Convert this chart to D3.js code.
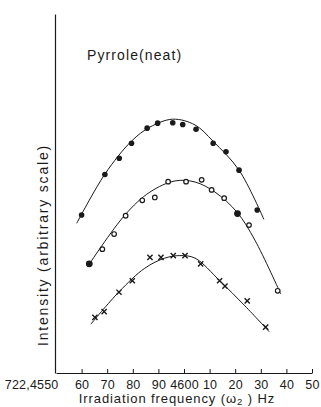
<!DOCTYPE html>
<html>
<head>
<meta charset="utf-8">
<script src="https://cdn.jsdelivr.net/npm/d3@7"></script>
<style>
  html, body { margin: 0; padding: 0; background: #fff; }
  svg { display: block; font-family: "Liberation Sans", Arial, sans-serif; }
</style>
</head>
<body>
<div id="chart"></div>
<script>
// irradiation frequency, last digits of 722,45xx Hz
const freqTicks = [4550, 4560, 4570, 4580, 4590, 4600, 4610, 4620, 4630, 4640, 4650];
const tickLabels = ['722,4550', '60', '70', '80', '90', '4600', '10', '20', '30', '40', '50'];

// filled dots (top)
const topFreq = [4560.0, 4569.1, 4574.7, 4579.5, 4585.6, 4589.7, 4595.6, 4599.5, 4604.7, 4611.4, 4616.4, 4621.5, 4628.6];
const topInt  = [44.0, 55.3, 59.8, 64.0, 68.2, 69.6, 69.7, 69.2, 67.9, 64.0, 61.6, 56.5, 45.4];
const topCurveFreq = [4558.1, 4569.1, 4579.5, 4586.7, 4595.6, 4604.3, 4611.3, 4621.5, 4631.2];
const topCurveInt  = [41.7, 55.4, 64.6, 68.5, 70.7, 69.1, 64.6, 56.5, 42.8];

// open circles (middle)
const midFreq = [4563.0, 4568.1, 4572.7, 4577.2, 4583.7, 4588.6, 4593.8, 4600.8, 4606.9, 4610.8, 4615.7, 4620.9, 4625.4, 4636.6];
const midInt  = [30.4, 34.5, 38.7, 43.8, 48.1, 48.9, 53.3, 53.3, 53.8, 51.0, 48.7, 44.4, 41.2, 22.9];
const midFilled = [true, false, false, false, false, false, false, false, false, false, false, true, false, false];
const midCurveFreq = [4562.3, 4576.9, 4586.7, 4596.5, 4604.3, 4612.1, 4620.7, 4627.7, 4637.8];
const midCurveInt  = [29.6, 44.0, 50.4, 53.5, 53.2, 50.4, 44.8, 37.0, 22.0];

// crosses (bottom)
const lowFreq = [4565.2, 4568.8, 4574.6, 4579.8, 4586.7, 4591.0, 4595.8, 4600.4, 4606.5, 4613.9, 4616.0, 4624.7, 4631.9];
const lowInt  = [15.5, 17.1, 22.5, 25.7, 32.2, 32.2, 32.7, 32.7, 30.4, 25.7, 24.2, 20.1, 12.8];
const lowCurveFreq = [4563.6, 4574.6, 4584.7, 4592.5, 4598.4, 4604.3, 4614.1, 4623.8, 4633.3];
const lowCurveInt  = [13.6, 22.6, 29.2, 32.0, 32.7, 32.0, 25.6, 18.7, 11.5];

const width = 321, height = 407;
const ink = '#1a1a1a';

const svg = d3.select('#chart').append('svg')
    .attr('width', width)
    .attr('height', height)
    .attr('viewBox', `0 0 ${width} ${height}`);

const x = d3.scaleLinear().domain([4550, 4650]).range([56, 312]);
const y = d3.scaleLinear().domain([0, 100]).range([373, 14]);

// axes
const xAxis = d3.axisBottom(x)
    .tickValues(freqTicks)
    .tickFormat((d, i) => tickLabels[i])
    .tickSizeInner(-4)
    .tickSizeOuter(0)
    .tickPadding(7);

const gx = svg.append('g')
    .attr('transform', `translate(0,${y(0)})`)
    .call(xAxis);
gx.select('.domain').attr('stroke', ink).attr('stroke-width', 1.2);
gx.selectAll('.tick line').attr('stroke', ink);
gx.selectAll('.tick text')
    .attr('fill', ink)
    .attr('font-size', 12.5)
    .attr('letter-spacing', 0.2)
    .attr('font-family', '"Liberation Sans", Arial, sans-serif');
gx.selectAll('.tick').filter(d => d === 4550).select('line').remove();
gx.selectAll('.tick').filter(d => d === 4550).select('text')
    .attr('text-anchor', 'end')
    .attr('x', 2);

const gy = svg.append('g')
    .attr('transform', `translate(${x(4550) - 1},0)`)
    .call(d3.axisLeft(y).ticks(0).tickSizeOuter(0));
gy.select('.domain').attr('stroke', ink).attr('stroke-width', 1.2);

// axis titles
const xt = svg.append('text')
    .attr('x', 177)
    .attr('y', 403)
    .attr('text-anchor', 'middle')
    .attr('font-size', 13)
    .attr('fill', ink)
    .attr('letter-spacing', 0.9);
xt.append('tspan').text('Irradiation frequency (ω');
xt.append('tspan').attr('font-size', 9.5).attr('dy', 2).text('2');
xt.append('tspan').attr('dy', -2).text(' ) Hz');

svg.append('text')
    .attr('transform', 'translate(48,245) rotate(-90)')
    .attr('text-anchor', 'middle')
    .attr('font-size', 14)
    .attr('fill', ink)
    .attr('letter-spacing', 1.8)
    .text('Intensity (arbitrary scale)');

svg.append('text')
    .attr('x', 87)
    .attr('y', 60)
    .attr('font-size', 14)
    .attr('fill', ink)
    .attr('letter-spacing', 1.1)
    .text('Pyrrole(neat)');

// fitted curves
const line = d3.line()
    .x(d => x(d[0]))
    .y(d => y(d[1]))
    .curve(d3.curveCatmullRom.alpha(0.5));

[[topCurveFreq, topCurveInt], [midCurveFreq, midCurveInt], [lowCurveFreq, lowCurveInt]].forEach(([fs, is]) => {
    svg.append('path')
        .datum(fs.map((f, i) => [f, is[i]]))
        .attr('fill', 'none')
        .attr('stroke', ink)
        .attr('stroke-width', 1)
        .attr('d', line);
});

// markers
svg.append('g').selectAll('circle')
    .data(topFreq.map((f, i) => [f, topInt[i]]))
    .join('circle')
    .attr('cx', d => x(d[0]))
    .attr('cy', d => y(d[1]))
    .attr('r', 2.8)
    .attr('fill', ink);

svg.append('g').selectAll('circle')
    .data(midFreq.map((f, i) => [f, midInt[i], midFilled[i]]))
    .join('circle')
    .attr('cx', d => x(d[0]))
    .attr('cy', d => y(d[1]))
    .attr('r', d => d[2] ? 2.8 : 2.3)
    .attr('fill', d => d[2] ? ink : '#fff')
    .attr('stroke', ink)
    .attr('stroke-width', 1.2);

const cross = 2.6;
svg.append('g').selectAll('path')
    .data(lowFreq.map((f, i) => [f, lowInt[i]]))
    .join('path')
    .attr('d', d => {
        const cx = x(d[0]), cy = y(d[1]);
        return `M${cx - cross},${cy - cross}L${cx + cross},${cy + cross}M${cx - cross},${cy + cross}L${cx + cross},${cy - cross}`;
    })
    .attr('stroke', ink)
    .attr('stroke-width', 1.4)
    .attr('fill', 'none');
</script>
</body>
</html>
